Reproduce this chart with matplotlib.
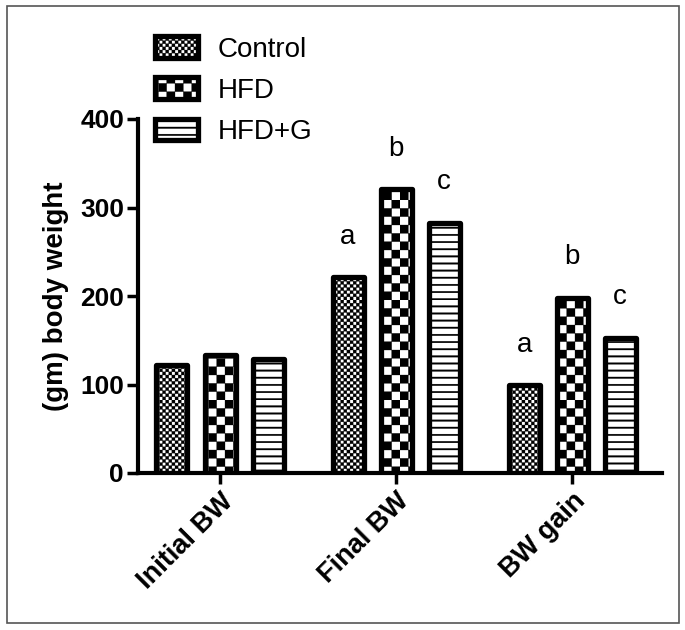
import matplotlib
matplotlib.use("Agg")
import matplotlib.hatch as mhatch
import matplotlib.pyplot as plt
import numpy as np
from matplotlib.patches import Rectangle
from matplotlib.path import Path

groups = ["Initial BW", "Final BW", "BW gain"]
series = ["Control", "HFD", "HFD+G"]
control = [122, 221, 99]
hfd = [133, 321, 198]
hfd_g = [129, 283, 153]
control_letters = ["", "a", "a"]
hfd_letters = ["", "b", "b"]
hfd_g_letters = ["", "c", "c"]


class CheckerHatch(mhatch.HatchPatternBase):
    """Filled checkerboard squares: '.' is coarse, '..' is fine."""

    def __init__(self, hatch, density):
        dots = hatch.count(".")
        self.cells = {0: 0, 1: 12}.get(dots, 32)
        self.squares = [(i, j) for i in range(self.cells)
                        for j in range(self.cells) if (i + j) % 2 == 0]
        self.num_vertices = len(self.squares) * 5

    def set_vertices_and_codes(self, vertices, codes):
        s = 1.0 / self.cells
        for k, (i, j) in enumerate(self.squares):
            x, y = i * s, j * s
            vertices[5 * k:5 * k + 5] = [(x, y), (x + s, y), (x + s, y + s),
                                         (x, y + s), (x, y)]
            codes[5 * k:5 * k + 5] = [Path.MOVETO, Path.LINETO, Path.LINETO,
                                      Path.LINETO, Path.CLOSEPOLY]


class StripeHatch(mhatch.HatchPatternBase):
    """Thin filled horizontal stripes for '-'."""

    def __init__(self, hatch, density):
        self.stripes = 14 if hatch.count("-") else 0
        self.num_vertices = self.stripes * 5

    def set_vertices_and_codes(self, vertices, codes):
        t = 0.016
        for k in range(self.stripes):
            y = k / self.stripes
            vertices[5 * k:5 * k + 5] = [(0, y), (1, y), (1, y + t),
                                         (0, y + t), (0, y)]
            codes[5 * k:5 * k + 5] = [Path.MOVETO, Path.LINETO, Path.LINETO,
                                      Path.LINETO, Path.CLOSEPOLY]


mhatch._hatch_types[:] = [StripeHatch, CheckerHatch]

plt.rcParams["font.family"] = ["Liberation Sans", "DejaVu Sans"]
plt.rcParams["hatch.linewidth"] = 0.2

fig = plt.figure(figsize=(6.85, 6.3), dpi=100)
ax = fig.add_axes([138 / 685, 1 - 473 / 630, 524 / 685, 354 / 630])

x = np.arange(len(groups))
pitch = 0.273
width = 0.176
data = [control, hfd, hfd_g]
letters = [control_letters, hfd_letters, hfd_g_letters]
hatches = ["..", ".", "-"]

for k, (name, values, marks, hatch) in enumerate(zip(series, data, letters, hatches)):
    pos = x + (k - 1) * pitch
    bars = ax.bar(pos, values, width, label=name, facecolor="white",
                  edgecolor="black", linewidth=3.8, hatch=hatch, zorder=3)
    for b in bars:
        b.set_joinstyle("round")
    for px, v, m in zip(pos, values, marks):
        if m:
            ax.annotate(m, (px, v), xytext=(0, 29), textcoords="offset points",
                        ha="center", va="center", fontsize=20)

ax.set_xlim(-0.466, 2.51)
ax.set_ylim(0, 400)
ax.set_yticks([0, 100, 200, 300, 400])
ax.set_xticks(x)
ax.set_xticklabels(groups, rotation=45, ha="right", va="top",
                   rotation_mode="anchor", fontsize=19.5, fontweight="bold")
for lab in ax.get_yticklabels():
    lab.set_fontweight("bold")
ax.tick_params(axis="y", labelsize=19, width=2.5, length=8, pad=2)
ax.tick_params(axis="x", width=2.5, length=8, pad=3)
ax.set_ylabel("(gm) body weight", fontsize=20, fontweight="bold", labelpad=8)

for side in ["top", "right"]:
    ax.spines[side].set_visible(False)
for side in ["left", "bottom"]:
    ax.spines[side].set_linewidth(3.0)

ax.legend(loc="upper left", bbox_to_anchor=(155 / 685, 1 - 36 / 630),
          bbox_transform=fig.transFigure, frameon=False, fontsize=20,
          handlelength=1.55, handleheight=0.83, handletextpad=0.72,
          labelspacing=0.53, borderpad=0, borderaxespad=0)

fig.add_artist(Rectangle((7 / 685, 1 - 623 / 630), 672 / 685, 617 / 630,
                         transform=fig.transFigure, fill=False,
                         edgecolor="#555555", linewidth=1.2))

fig.savefig("out.png", dpi=100)
